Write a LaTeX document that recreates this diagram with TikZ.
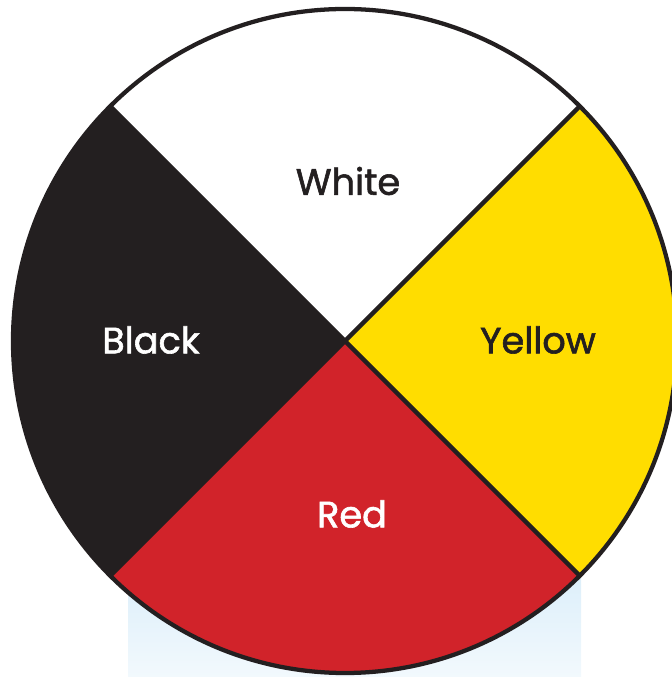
\documentclass[tikz,border=0pt]{standalone}
\usepackage{fontspec}
\setmainfont{Poppins}[FakeBold=1.6,AutoFakeBold=1.6]
\usepackage{xcolor}
\usepackage{tikz}

\definecolor{wheelink}{HTML}{231F20}
\definecolor{wheelred}{HTML}{D1232A}
\definecolor{wheelyellow}{HTML}{FFDD00}
\definecolor{skyblue}{HTML}{DDEFFA}
\definecolor{skypale}{HTML}{F2F9FD}

\tikzset{
  lbl/.style={font=\fontsize{27.5}{30}\selectfont\bfseries},
  wedge/.style={draw=none},
}

\begin{document}
\begin{tikzpicture}[x=0.75pt,y=0.75pt]
  \useasboundingbox (0,0) rectangle (671,677);
  \fill[top color=skyblue,bottom color=skypale] (128,0) rectangle (581,100);
  \coordinate (c) at (345,336);
  % the four quarters
  \fill[wedge,white]        (c) -- ++(45:332)  arc (45:135:332)  -- cycle;
  \fill[wedge,wheelink]     (c) -- ++(135:332) arc (135:225:332) -- cycle;
  \fill[wedge,wheelred]     (c) -- ++(225:332) arc (225:315:332) -- cycle;
  \fill[wedge,wheelyellow]  (c) -- ++(-45:332) arc (-45:45:332)  -- cycle;
  % outline and cross
  \draw[wheelink,line width=3.2pt] (c) circle (332);
  \draw[wheelink,line width=3.2pt] (c) -- ++(45:332)  (c) -- ++(225:332);
  \draw[wheelink,line width=3.2pt] (c) -- ++(135:332) (c) -- ++(-45:332);
  \node[lbl,text=wheelink] (white)  at (348,496) {White};
  \node[lbl,text=white]    (black)  at (151,337) {Black};
  \node[lbl,text=wheelink] (yellow) at (538,337) {Yellow};
  \node[lbl,text=white]    (red)    at (352,163) {Red};
\end{tikzpicture}
\end{document}
